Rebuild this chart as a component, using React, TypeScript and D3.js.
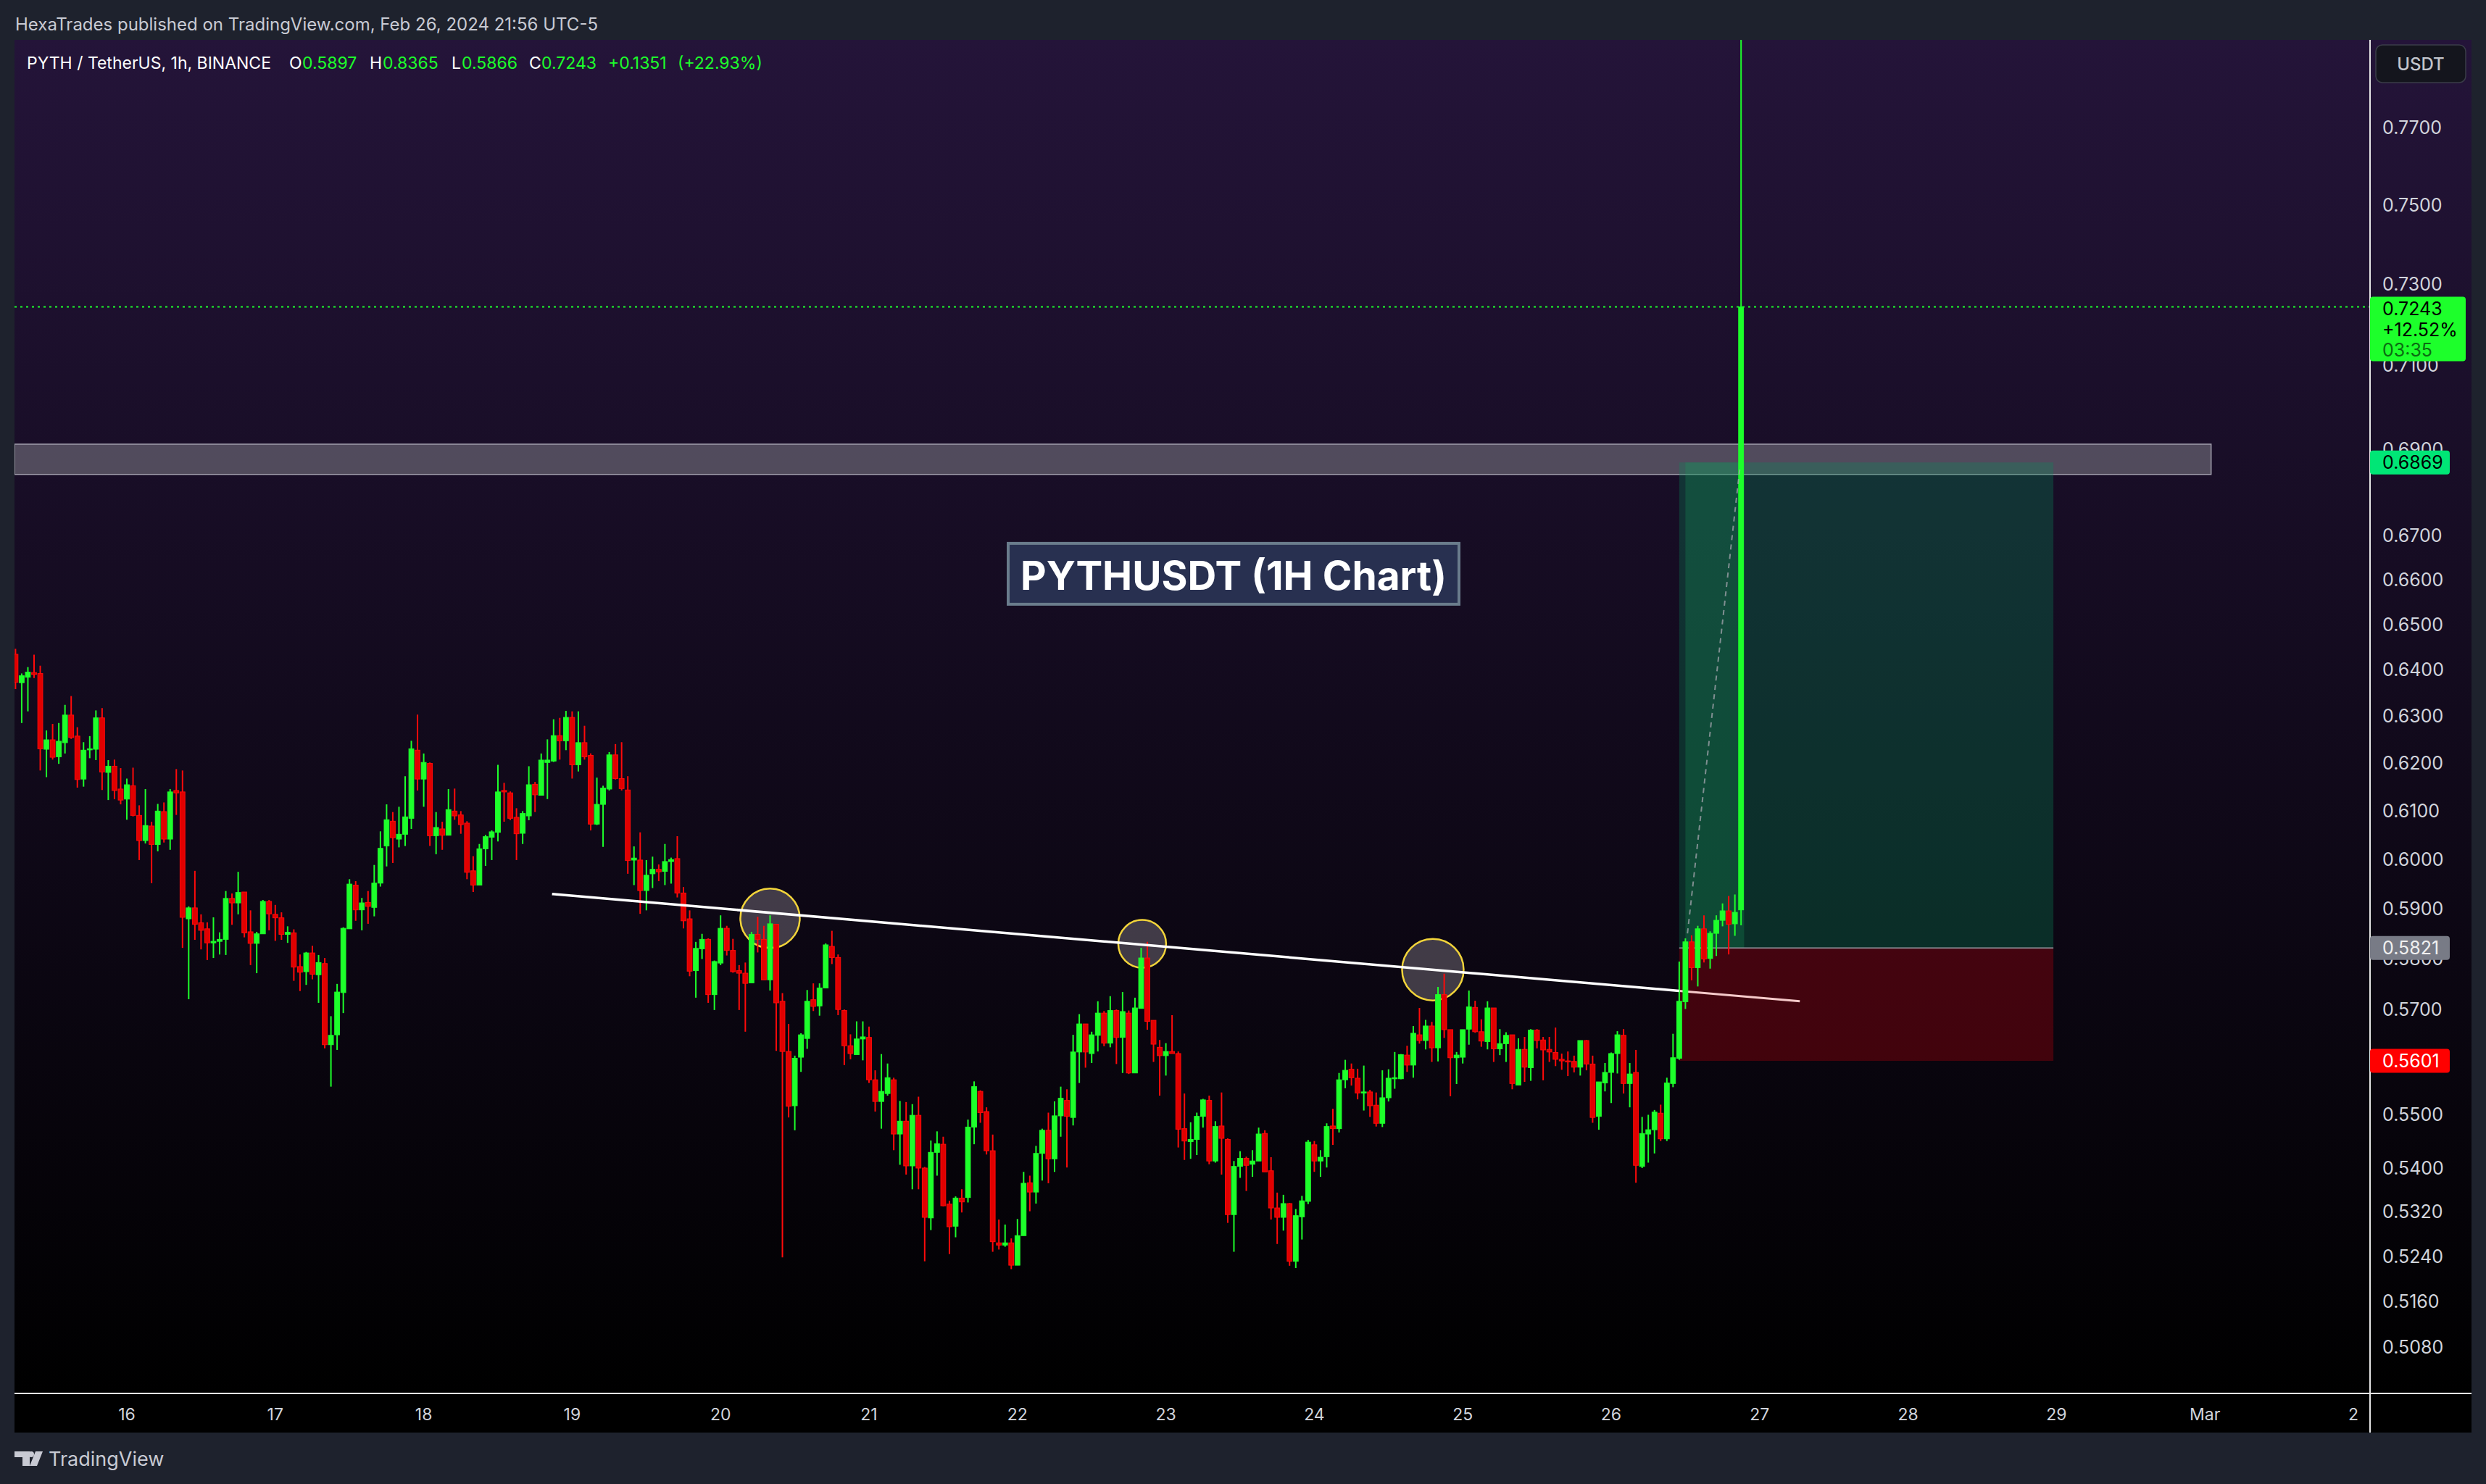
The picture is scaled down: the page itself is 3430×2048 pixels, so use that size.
import * as d3 from 'd3';
import React from 'react';

const W = 3430;
const H = 2048;

// hourly candles, [open, high, low, close]; feb15 starts at 06:00 UTC
const feb15 = [
  [0.6434, 0.6446, 0.6358, 0.6373], [0.6372, 0.6392, 0.6285, 0.6387], [0.6384, 0.6406, 0.631, 0.6395],
  [0.6394, 0.6433, 0.6382, 0.639], [0.6392, 0.6409, 0.6184, 0.623], [0.6229, 0.6269, 0.617, 0.6249],
  [0.6249, 0.6283, 0.6207, 0.6212], [0.6213, 0.6285, 0.6198, 0.6246], [0.6243, 0.6324, 0.622, 0.6302],
  [0.6302, 0.6343, 0.6251, 0.6254], [0.6257, 0.6276, 0.6148, 0.6165], [0.6166, 0.6244, 0.615, 0.6227],
  [0.6228, 0.6257, 0.621, 0.623], [0.6229, 0.6312, 0.6206, 0.6296], [0.6296, 0.6317, 0.6143, 0.6181],
  [0.618, 0.6206, 0.6122, 0.6193], [0.6193, 0.6207, 0.6124, 0.6142], [0.6145, 0.6189, 0.6113, 0.6122],
];
const feb16 = [
  [0.6124, 0.6167, 0.6081, 0.6154], [0.6152, 0.619, 0.6088, 0.609], [0.609, 0.6111, 0.5998, 0.6038],
  [0.6038, 0.6145, 0.6032, 0.6069], [0.6068, 0.6077, 0.5951, 0.603], [0.603, 0.6114, 0.6016, 0.6099],
  [0.6098, 0.6117, 0.6034, 0.6041], [0.6041, 0.6145, 0.6019, 0.6139], [0.6142, 0.6187, 0.6091, 0.6137],
  [0.6139, 0.6184, 0.5821, 0.5882], [0.5879, 0.5904, 0.572, 0.5901], [0.5901, 0.5976, 0.5837, 0.5868],
  [0.5871, 0.5888, 0.5818, 0.5856], [0.5859, 0.5872, 0.5797, 0.5831], [0.5831, 0.5882, 0.5801, 0.5834],
  [0.5834, 0.5852, 0.5808, 0.5838], [0.5838, 0.5935, 0.5807, 0.592], [0.592, 0.593, 0.5867, 0.5911],
  [0.5911, 0.5974, 0.5888, 0.5932], [0.5933, 0.5933, 0.5842, 0.5851], [0.5853, 0.5896, 0.5787, 0.583],
  [0.583, 0.5853, 0.5771, 0.5849], [0.5849, 0.5917, 0.5849, 0.5914], [0.5914, 0.5917, 0.5856, 0.5889],
];
const feb17 = [
  [0.5888, 0.5907, 0.5835, 0.5881], [0.5881, 0.5892, 0.5837, 0.5848], [0.5848, 0.5864, 0.5831, 0.5852],
  [0.5851, 0.5858, 0.5756, 0.5783], [0.5784, 0.5808, 0.5736, 0.5773], [0.5774, 0.5813, 0.5748, 0.5811],
  [0.5811, 0.5825, 0.5759, 0.5769], [0.5768, 0.5807, 0.5713, 0.5792], [0.579, 0.5801, 0.5625, 0.5632],
  [0.5632, 0.5687, 0.5552, 0.565], [0.5651, 0.575, 0.5622, 0.5734], [0.5733, 0.5862, 0.5693, 0.586],
  [0.5859, 0.5959, 0.5859, 0.5949], [0.5947, 0.5955, 0.5875, 0.5897], [0.5897, 0.5921, 0.5856, 0.5911],
  [0.5912, 0.5935, 0.5869, 0.5904], [0.5902, 0.5988, 0.5884, 0.5951], [0.5951, 0.6057, 0.5944, 0.6022],
  [0.6027, 0.6113, 0.5985, 0.6081], [0.6078, 0.6097, 0.5992, 0.6044], [0.6041, 0.6108, 0.6024, 0.6051],
  [0.6051, 0.6172, 0.6027, 0.6087], [0.6084, 0.6247, 0.6062, 0.623], [0.6227, 0.6303, 0.6142, 0.6166],
];
const feb18 = [
  [0.6166, 0.622, 0.6108, 0.6201], [0.6199, 0.6201, 0.6027, 0.6048], [0.6048, 0.6097, 0.601, 0.6065],
  [0.6062, 0.6077, 0.6019, 0.6049], [0.6049, 0.6145, 0.6049, 0.6102], [0.6099, 0.6146, 0.6081, 0.6089],
  [0.6091, 0.6099, 0.6052, 0.6071], [0.6074, 0.6078, 0.5959, 0.5973], [0.5976, 0.6006, 0.5933, 0.5947],
  [0.5947, 0.6031, 0.5947, 0.6021], [0.6021, 0.605, 0.5986, 0.6046], [0.6045, 0.6059, 0.5998, 0.6056],
  [0.6055, 0.6196, 0.6036, 0.6139], [0.6142, 0.6158, 0.6077, 0.6139], [0.6137, 0.614, 0.608, 0.6084],
  [0.6086, 0.6105, 0.5998, 0.6052], [0.6053, 0.6099, 0.6031, 0.6094], [0.6089, 0.6193, 0.608, 0.6154],
  [0.6155, 0.616, 0.6097, 0.6133], [0.6132, 0.622, 0.6132, 0.6206], [0.6201, 0.625, 0.6124, 0.6206],
  [0.6204, 0.6293, 0.6202, 0.6258], [0.6258, 0.6296, 0.6207, 0.6247], [0.6247, 0.6311, 0.6227, 0.6297],
];
const feb19 = [
  [0.6297, 0.631, 0.6167, 0.6196], [0.6196, 0.631, 0.6182, 0.6243], [0.6243, 0.6279, 0.6207, 0.6213],
  [0.6216, 0.622, 0.6059, 0.6072], [0.6072, 0.6169, 0.607, 0.6113], [0.6113, 0.6152, 0.6025, 0.6147],
  [0.6145, 0.6223, 0.6142, 0.6217], [0.6217, 0.624, 0.6165, 0.6167], [0.6167, 0.6244, 0.6142, 0.6146],
  [0.6143, 0.6172, 0.597, 0.5997], [0.5998, 0.6026, 0.5947, 0.6002], [0.5998, 0.6055, 0.5889, 0.5936],
  [0.5936, 0.5998, 0.5896, 0.5967], [0.597, 0.6005, 0.5941, 0.5979], [0.5979, 0.5989, 0.5955, 0.5974],
  [0.5975, 0.6031, 0.5947, 0.5995], [0.5995, 0.6003, 0.595, 0.5999], [0.6001, 0.6047, 0.5922, 0.5931],
  [0.5931, 0.5943, 0.586, 0.5875], [0.5879, 0.5896, 0.5765, 0.5775], [0.5776, 0.5833, 0.5723, 0.582],
  [0.5819, 0.5849, 0.5799, 0.5838], [0.5838, 0.584, 0.5713, 0.5729], [0.5729, 0.5796, 0.5699, 0.5794],
];
const feb20 = [
  [0.5791, 0.5886, 0.5787, 0.586], [0.586, 0.5865, 0.5806, 0.5816], [0.5816, 0.5839, 0.5772, 0.5774],
  [0.5776, 0.5787, 0.5699, 0.5771], [0.5771, 0.5792, 0.5657, 0.5751], [0.5752, 0.5853, 0.5752, 0.5848],
  [0.5848, 0.5883, 0.5812, 0.5838], [0.5838, 0.5865, 0.5758, 0.5758], [0.5758, 0.5886, 0.5737, 0.5869],
  [0.5868, 0.5868, 0.562, 0.5713], [0.5716, 0.5732, 0.5238, 0.5619], [0.5619, 0.5672, 0.5494, 0.5515],
  [0.5516, 0.5611, 0.547, 0.5606], [0.5608, 0.5654, 0.558, 0.5651], [0.5644, 0.5738, 0.5624, 0.5716],
  [0.5719, 0.5751, 0.5697, 0.5706], [0.5707, 0.5751, 0.5688, 0.5742], [0.5742, 0.583, 0.5742, 0.5827],
  [0.5824, 0.5855, 0.5789, 0.5802], [0.5802, 0.5808, 0.5689, 0.57], [0.5698, 0.57, 0.5593, 0.563],
  [0.563, 0.5652, 0.5604, 0.5615], [0.5613, 0.5677, 0.5613, 0.5643], [0.5643, 0.5677, 0.5602, 0.5647],
];
const feb21 = [
  [0.5646, 0.5667, 0.5559, 0.5565], [0.5565, 0.5583, 0.5505, 0.5524], [0.5524, 0.5614, 0.5473, 0.5543],
  [0.5539, 0.5596, 0.5535, 0.5569], [0.5565, 0.5569, 0.5433, 0.5463], [0.5463, 0.5525, 0.5406, 0.5487],
  [0.5487, 0.5523, 0.5388, 0.5404], [0.5404, 0.5519, 0.5361, 0.5498], [0.5498, 0.5533, 0.5361, 0.54],
  [0.54, 0.5402, 0.5231, 0.531], [0.5309, 0.5451, 0.5287, 0.5429], [0.5429, 0.5468, 0.5386, 0.5445],
  [0.5444, 0.5458, 0.533, 0.5331], [0.5334, 0.534, 0.5244, 0.5293], [0.5294, 0.5348, 0.5274, 0.5345],
  [0.5345, 0.5361, 0.5319, 0.5338], [0.5346, 0.549, 0.5337, 0.5476], [0.5476, 0.5562, 0.5444, 0.5552],
  [0.5543, 0.5545, 0.5484, 0.5503], [0.5505, 0.5513, 0.5425, 0.5432], [0.5432, 0.5462, 0.5248, 0.5266],
  [0.5264, 0.5306, 0.5252, 0.526], [0.526, 0.5297, 0.5257, 0.5264], [0.5264, 0.5272, 0.5217, 0.5224],
];
const feb22 = [
  [0.5224, 0.5307, 0.5224, 0.5277], [0.5277, 0.5393, 0.5277, 0.5372], [0.5373, 0.5386, 0.5321, 0.5356],
  [0.5356, 0.5441, 0.5335, 0.5427], [0.5427, 0.5473, 0.5377, 0.547], [0.547, 0.5503, 0.5372, 0.5417],
  [0.5417, 0.5524, 0.5393, 0.5497], [0.5497, 0.5552, 0.5458, 0.553], [0.5526, 0.5547, 0.5401, 0.5496],
  [0.5494, 0.5651, 0.5479, 0.5618], [0.5618, 0.5691, 0.5559, 0.5672], [0.5672, 0.5672, 0.5588, 0.5618],
  [0.5615, 0.5657, 0.5597, 0.5651], [0.565, 0.5716, 0.5619, 0.5693], [0.5693, 0.5697, 0.5629, 0.5635],
  [0.5635, 0.5726, 0.5627, 0.5698], [0.5698, 0.57, 0.5595, 0.5646], [0.5646, 0.5734, 0.5578, 0.5696],
  [0.5693, 0.5698, 0.5576, 0.5578], [0.5578, 0.5723, 0.5578, 0.5703], [0.5702, 0.5821, 0.5702, 0.5801],
  [0.5801, 0.5833, 0.5661, 0.5677], [0.5679, 0.5679, 0.5599, 0.5633], [0.5627, 0.5641, 0.5535, 0.5611],
];
const feb23 = [
  [0.5611, 0.5635, 0.5573, 0.5619], [0.5619, 0.5689, 0.5615, 0.5615], [0.5615, 0.5619, 0.5438, 0.5472],
  [0.5473, 0.5539, 0.5415, 0.545], [0.5449, 0.5485, 0.5417, 0.5453], [0.5453, 0.5503, 0.5424, 0.5496],
  [0.5496, 0.5529, 0.5475, 0.5527], [0.5526, 0.5535, 0.5407, 0.5413], [0.5413, 0.5487, 0.541, 0.5477],
  [0.5478, 0.5541, 0.5388, 0.5455], [0.5453, 0.5455, 0.53, 0.5315], [0.5315, 0.5413, 0.5248, 0.5403],
  [0.5403, 0.5431, 0.5382, 0.5418], [0.5418, 0.5421, 0.5358, 0.5405], [0.5407, 0.5433, 0.5384, 0.5413],
  [0.5413, 0.5475, 0.5413, 0.5463], [0.5464, 0.547, 0.5393, 0.5393], [0.5395, 0.542, 0.5306, 0.5327],
  [0.5327, 0.5355, 0.5262, 0.531], [0.531, 0.5351, 0.5286, 0.5335], [0.5335, 0.5336, 0.5223, 0.5231],
  [0.5231, 0.5325, 0.5219, 0.5313], [0.5311, 0.5349, 0.527, 0.534], [0.5339, 0.5452, 0.5334, 0.5448],
];
const feb24 = [
  [0.5443, 0.545, 0.5393, 0.5413], [0.5413, 0.5433, 0.5384, 0.542], [0.5421, 0.5483, 0.5401, 0.5477],
  [0.5478, 0.551, 0.5443, 0.5473], [0.5473, 0.5578, 0.5466, 0.5565], [0.5565, 0.5603, 0.5549, 0.5583],
  [0.5585, 0.5596, 0.5554, 0.5569], [0.5568, 0.5586, 0.5528, 0.554], [0.554, 0.5592, 0.5507, 0.5542],
  [0.5542, 0.5546, 0.5495, 0.5516], [0.5517, 0.5541, 0.5477, 0.5483], [0.5483, 0.5583, 0.5476, 0.5531],
  [0.5531, 0.5585, 0.5524, 0.5568], [0.5567, 0.5618, 0.5548, 0.5569], [0.5567, 0.5614, 0.5566, 0.5613],
  [0.5612, 0.563, 0.558, 0.5593], [0.5593, 0.5668, 0.5569, 0.5654], [0.5651, 0.5703, 0.5634, 0.564],
  [0.564, 0.568, 0.5623, 0.5668], [0.5668, 0.5676, 0.5599, 0.5626], [0.5626, 0.5744, 0.56, 0.5729],
  [0.5729, 0.577, 0.5645, 0.5661], [0.5661, 0.5661, 0.5534, 0.5607], [0.5607, 0.5618, 0.5557, 0.5612],
];
const feb25 = [
  [0.5608, 0.5661, 0.5596, 0.5661], [0.5662, 0.5737, 0.5632, 0.5705], [0.5704, 0.5717, 0.5655, 0.5657],
  [0.5657, 0.5681, 0.5628, 0.5639], [0.5638, 0.5716, 0.5623, 0.5703], [0.5703, 0.5703, 0.5599, 0.5624],
  [0.5624, 0.5662, 0.5612, 0.5634], [0.5634, 0.5656, 0.5599, 0.565], [0.5651, 0.5651, 0.5547, 0.5558],
  [0.5555, 0.5644, 0.5555, 0.5623], [0.5623, 0.5647, 0.5561, 0.5589], [0.5588, 0.5662, 0.5563, 0.566],
  [0.566, 0.5662, 0.5625, 0.564], [0.5641, 0.5647, 0.5564, 0.5622], [0.5623, 0.5647, 0.5599, 0.5618],
  [0.5617, 0.5665, 0.5591, 0.5604], [0.5604, 0.5615, 0.5584, 0.5601], [0.5601, 0.5619, 0.5572, 0.56],
  [0.56, 0.5611, 0.5579, 0.5589], [0.5589, 0.564, 0.5573, 0.564], [0.564, 0.5641, 0.5583, 0.5595],
  [0.5595, 0.5611, 0.5484, 0.5494], [0.5496, 0.5561, 0.5471, 0.5561], [0.5559, 0.5597, 0.5543, 0.5579],
];
const feb26 = [
  [0.5579, 0.5617, 0.5521, 0.5615], [0.5615, 0.5658, 0.5577, 0.5651], [0.565, 0.5662, 0.5539, 0.5558],
  [0.5558, 0.5597, 0.5513, 0.5576], [0.5579, 0.5622, 0.5373, 0.5405], [0.5403, 0.5495, 0.54, 0.5464],
  [0.5463, 0.5499, 0.541, 0.5471], [0.5471, 0.5508, 0.5427, 0.5504], [0.5502, 0.5518, 0.545, 0.5454],
  [0.5454, 0.5569, 0.545, 0.5559], [0.5558, 0.5653, 0.5551, 0.5607], [0.5606, 0.5794, 0.5603, 0.5716],
  [0.5715, 0.584, 0.5701, 0.5833], [0.5833, 0.5846, 0.5757, 0.5782], [0.5782, 0.5865, 0.5745, 0.5859],
  [0.5859, 0.5886, 0.5792, 0.5799], [0.58, 0.5854, 0.578, 0.585], [0.585, 0.5886, 0.5805, 0.5876],
  [0.5876, 0.591, 0.5864, 0.5895], [0.5895, 0.5925, 0.5808, 0.5868], [0.5869, 0.5928, 0.5845, 0.5892],
  [0.5897, 0.8365, 0.5866, 0.7243],
];

// 0.5600 sits fully under the stop label in the reference, so it is left out
const priceTicks = [0.77, 0.75, 0.73, 0.71, 0.69, 0.67, 0.66, 0.65, 0.64, 0.63, 0.62, 0.61, 0.6, 0.59, 0.58, 0.57, 0.55, 0.54, 0.532, 0.524, 0.516, 0.508];
const timeTicks = ['16', '17', '18', '19', '20', '21', '22', '23', '24', '25', '26', '27', '28', '29', 'Mar', '2'];

const lastPrice = 0.7243;
const entryPrice = 0.5821;
const targetPrice = 0.6869;
const stopPrice = 0.5601;
const zoneLow = 0.6841;
const zoneHigh = 0.6912;

const GREEN = '#1dff2b';
const RED = '#ff0a0a';
const RED_FILL = '#e10000';

const utc = (d: number, h: number, m = 0) => new Date(Date.UTC(2024, 1, d, h, m));

const firstBar = Date.UTC(2024, 1, 15, 6);
const candles = [feb15, feb16, feb17, feb18, feb19, feb20, feb21, feb22, feb23, feb24, feb25, feb26]
  .flat()
  .map((r, i) => ({ t: new Date(firstBar + i * 3600e3), o: r[0], h: r[1], l: r[2], c: r[3] }));

// pane geometry
const paneL = 20;
const paneT = 55;
const paneR = 3410;
const paneB = 1977;
const axisX = 3270;
const axisY = 1923;

const x = d3.scaleUtc().domain([utc(16, 0), new Date(Date.UTC(2024, 2, 2))]).range([175, 3247]);
const y = d3.scaleLog().domain([0.508, 0.67]).range([1859.2, 739]);

const circles = [
  { t: utc(20, 8), p: 0.588, r: 41 },
  { t: utc(22, 20, 10), p: 0.5829, r: 33 },
  { t: utc(24, 19, 10), p: 0.5778, r: 42.5 },
];

const App = () => {
  const font = 'Inter, Roboto, sans-serif';

  // trend line, split where the position tool starts
  const tl = { x1: x(utc(18, 20, 45)), y1: y(0.5929), x2: x(utc(27, 6, 30)), y2: y(0.5716) };
  const posL = x(utc(26, 11));
  const posR = x(utc(28, 23, 30));
  const splitY = tl.y1 + ((posL - tl.x1) / (tl.x2 - tl.x1)) * (tl.y2 - tl.y1);

  const labelX = x(utc(21, 22, 30));
  const labelY = y(0.6682);

  const boxes = [
    { p: targetPrice, fill: '#00e676', text: '#000', w: 110 },
    { p: entryPrice, fill: '#787b86', text: '#f0f0f0', w: 110 },
    { p: stopPrice, fill: '#ff0000', text: '#fff', w: 110 },
  ];

  return (
    <svg width={W} height={H} style={{ position: 'absolute', left: 0, top: 0 }} fontFamily={font}>
      <defs>
        <linearGradient id="paneBg" x1="0" y1="0" x2="0" y2="1">
          <stop offset="0" stopColor="#241439" />
          <stop offset="1" stopColor="#000000" />
        </linearGradient>
        <clipPath id="plot">
          <rect x={paneL} y={paneT} width={axisX - paneL} height={axisY - paneT} />
        </clipPath>
      </defs>

      <rect width={W} height={H} fill="#1e222d" />
      <rect x={paneL} y={paneT} width={paneR - paneL} height={axisY - paneT} fill="url(#paneBg)" />
      <rect x={paneL} y={axisY} width={paneR - paneL} height={paneB - axisY} fill="#000" />

      <g clipPath="url(#plot)">
        {/* resistance zone */}
        <rect x={paneL} y={y(zoneHigh)} width={x(new Date(Date.UTC(2024, 2, 1, 1))) - paneL} height={y(zoneLow) - y(zoneHigh)}
          fill="rgba(150,150,158,0.45)" stroke="rgba(205,205,215,0.7)" strokeWidth={1.5} />

        {/* long position tool */}
        <rect x={posL} y={y(targetPrice)} width={posR - posL} height={y(entryPrice) - y(targetPrice)} fill="rgba(5,140,90,0.3)" />
        <rect x={x(utc(26, 12))} y={y(targetPrice)} width={x(utc(26, 21, 30)) - x(utc(26, 12))} height={y(entryPrice) - y(targetPrice)} fill="rgba(25,160,90,0.25)" />
        <rect x={posL} y={y(entryPrice)} width={posR - posL} height={y(stopPrice) - y(entryPrice)} fill="rgba(200,0,10,0.3)" />
        <line x1={posL} x2={posR} y1={y(entryPrice)} y2={y(entryPrice)} stroke="#9a9ca5" strokeWidth={1.5} />

        {circles.map((c, i) => (
          <circle key={i} cx={x(c.t)} cy={y(c.p)} r={c.r} fill="rgba(130,125,135,0.45)" stroke="#f2d43a" strokeWidth={2.5} />
        ))}

        <line x1={posL} y1={splitY} x2={tl.x2} y2={tl.y2} stroke="#f6caca" strokeWidth={3} />

        {candles.map((d, i) => {
          const cx = x(d.t);
          const up = d.c >= d.o;
          const top = y(Math.max(d.o, d.c));
          const bot = y(Math.min(d.o, d.c));
          return (
            <g key={i}>
              <line x1={cx} x2={cx} y1={y(d.h)} y2={y(d.l)} stroke={up ? GREEN : RED} strokeWidth={2} />
              <rect x={cx - 3.4} y={top} width={6.8} height={Math.max(1.5, bot - top)}
                fill={up ? GREEN : RED_FILL} stroke={up ? GREEN : RED} strokeWidth={1} />
            </g>
          );
        })}

        <line x1={tl.x1} y1={tl.y1} x2={posL} y2={splitY} stroke="#ffffff" strokeWidth={3.5} />

        <line x1={x(utc(26, 12, 20))} y1={y(0.585)} x2={x(utc(26, 20, 50))} y2={y(0.686)}
          stroke="rgba(165,165,175,0.75)" strokeWidth={2} strokeDasharray="7 6" />

        <line x1={paneL} x2={axisX} y1={y(lastPrice)} y2={y(lastPrice)} stroke={GREEN} strokeWidth={2} strokeDasharray="3 5" />

        {/* chart title label */}
        <rect x={labelX} y={labelY} width={622} height={84} fill="#283050" stroke="#6a7c8c" strokeWidth={4} />
        <text x={labelX + 311} y={labelY + 44} textAnchor="middle" dominantBaseline="central" fill="#ffffff"
          fontSize={55} fontWeight={700}>PYTHUSDT (1H Chart)</text>
      </g>

      {/* axes */}
      <line x1={axisX} x2={axisX} y1={paneT} y2={paneB} stroke="#e6e6e6" strokeWidth={2} />
      <line x1={paneL} x2={paneR} y1={axisY} y2={axisY} stroke="#e6e6e6" strokeWidth={2} />

      {priceTicks.map((p) => (
        <text key={p} x={3287} y={y(p)} dominantBaseline="central" fill="#d1d4dc" fontSize={25}>{p.toFixed(4)}</text>
      ))}

      {timeTicks.map((lab, i) => (
        <text key={lab} x={x(new Date(Date.UTC(2024, 1, 16 + i)))} y={1952} textAnchor="middle" dominantBaseline="central"
          fill="#d1d4dc" fontSize={23}>{lab}</text>
      ))}

      {boxes.map((b) => (
        <g key={b.p}>
          <rect x={axisX} y={y(b.p) - 16.5} width={b.w} height={33} rx={4} fill={b.fill} />
          <text x={3287} y={y(b.p)} dominantBaseline="central" fill={b.text} fontSize={25}>{b.p.toFixed(4)}</text>
        </g>
      ))}

      <g>
        <rect x={axisX} y={y(lastPrice) - 14} width={132} height={89} rx={4} fill={GREEN} />
        <text x={3287} y={y(lastPrice) + 2} dominantBaseline="central" fill="#000" fontSize={25}>{lastPrice.toFixed(4)}</text>
        <text x={3287} y={y(lastPrice) + 31} dominantBaseline="central" fill="#000" fontSize={25}>+12.52%</text>
        <text x={3287} y={y(lastPrice) + 59} dominantBaseline="central" fill="#0b6b12" fontSize={25}>03:35</text>
      </g>

      <rect x={3278} y={62} width={124} height={52} rx={9} fill="#14151d" stroke="#3a3d48" strokeWidth={1.5} />
      <text x={3340} y={88} textAnchor="middle" dominantBaseline="central" fill="#c3c5cc" fontSize={24} fontWeight={500}>USDT</text>

      {/* header */}
      <text x={21} y={33} dominantBaseline="central" fill="#c8cad3" fontSize={24}>
        HexaTrades published on TradingView.com, Feb 26, 2024 21:56 UTC-5
      </text>
      <g fontSize={23} dominantBaseline="central">
        <text x={37} y={87} fill="#ffffff">PYTH / TetherUS, 1h, BINANCE</text>
        <text x={399} y={87} fill="#ffffff">O</text>
        <text x={417} y={87} fill={GREEN}>0.5897</text>
        <text x={510} y={87} fill="#ffffff">H</text>
        <text x={528} y={87} fill={GREEN}>0.8365</text>
        <text x={623} y={87} fill="#ffffff">L</text>
        <text x={637} y={87} fill={GREEN}>0.5866</text>
        <text x={730} y={87} fill="#ffffff">C</text>
        <text x={747} y={87} fill={GREEN}>0.7243</text>
        <text x={839} y={87} fill={GREEN}>+0.1351</text>
        <text x={935} y={87} fill={GREEN}>(+22.93%)</text>
      </g>

      {/* footer logo */}
      <g fill="#c8cad3">
        <path d="M20 2003 H41 V2023 H31 V2011 H20 Z" />
        <circle cx={43} cy={2007} r={4} />
        <path d="M49 2003 H59 L51 2023 H41 Z" />
      </g>
      <text x={67} y={2013} dominantBaseline="central" fill="#c8cad3" fontSize={27}>TradingView</text>
    </svg>
  );
};

export default App;
